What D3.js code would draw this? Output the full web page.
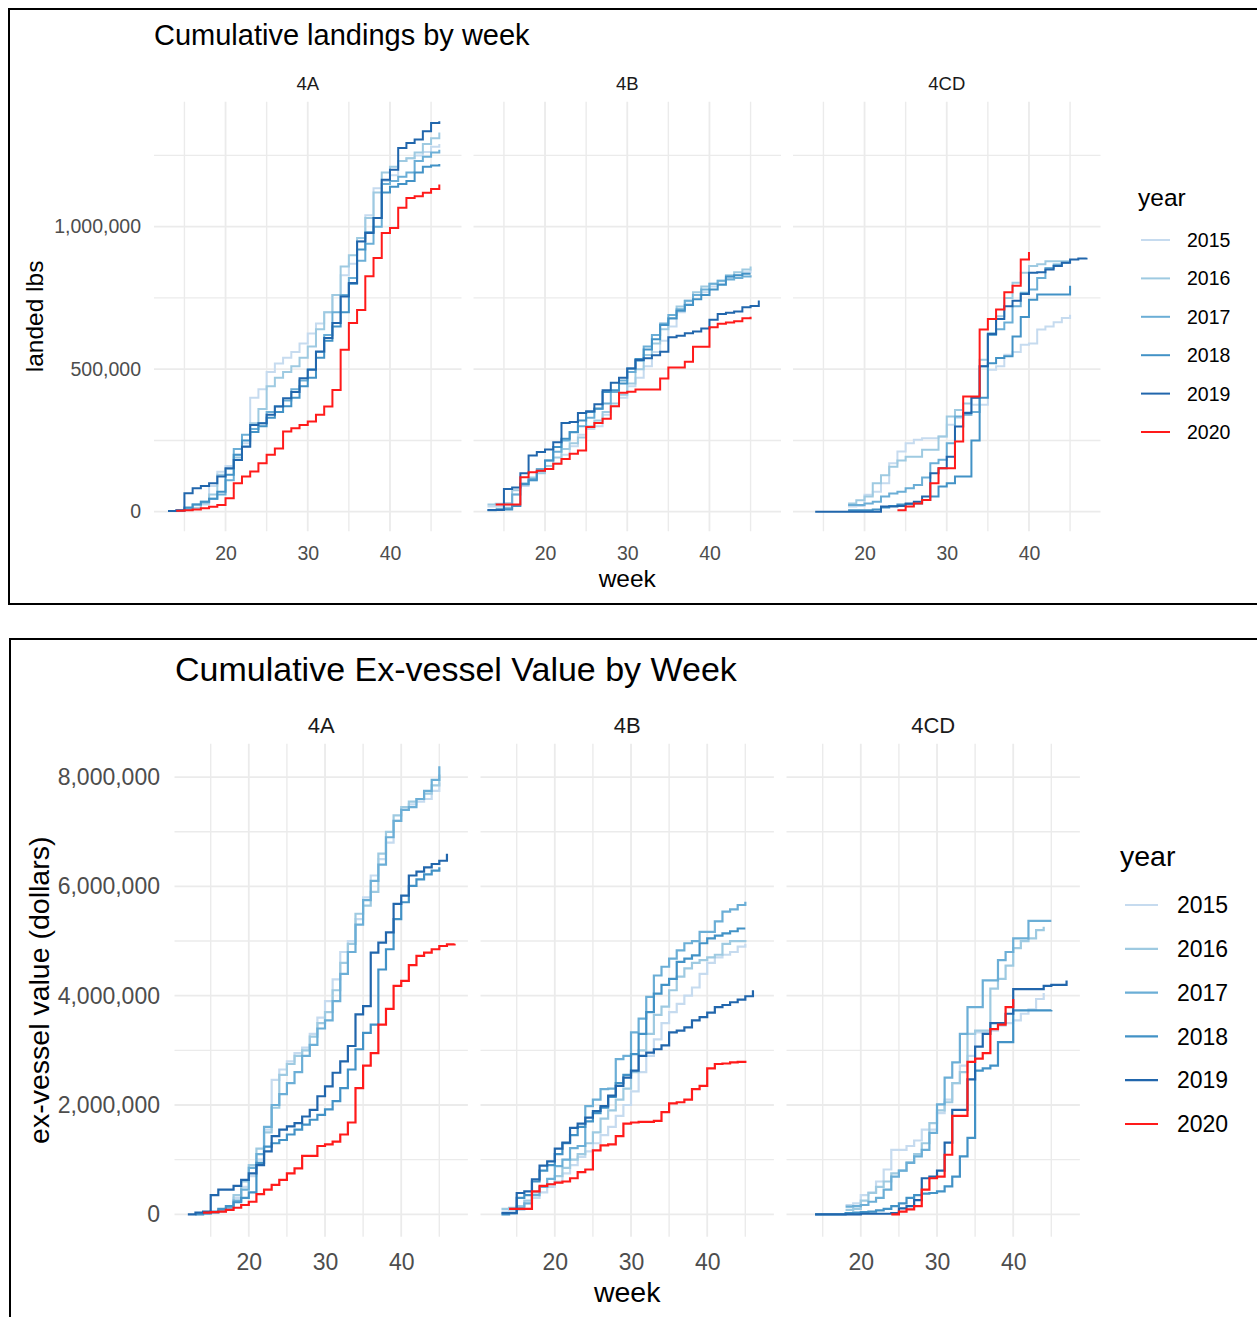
<!DOCTYPE html>
<html>
<head>
<meta charset="utf-8">
<script src="https://cdn.jsdelivr.net/npm/d3@7"></script>
<style>
  body { margin: 0; background: #fff; }
  svg text { font-family: "Liberation Sans", Arial, sans-serif; }
</style>
</head>
<body>
<svg id="chart" width="1257" height="1317"></svg>
<script>
// ---- data ----
const years = ["2015", "2016", "2017", "2018", "2019", "2020"];
const yearColors = ["#c6dbef", "#9ecae1", "#6baed6", "#4292c6", "#2166ac", "#ff1a1a"];
const areas = ["4A", "4B", "4CD"];
const weekTicks = [20, 30, 40];
const weekMinor = [15, 25, 35, 45];

// cumulative landings, thousands of lbs: [year, first week, weekly values]
const lbs4A = [
  ["2015", 14, [4, 8, 14, 25, 90, 140, 160, 200, 240, 400, 430, 490, 520, 540, 560, 590, 625, 660, 700, 760, 830, 870, 950, 1040, 1135, 1160, 1180, 1230, 1240, 1250, 1262, 1280, 1290]],
  ["2016", 14, [3, 6, 12, 30, 60, 130, 150, 190, 230, 310, 360, 440, 470, 490, 510, 540, 580, 640, 700, 760, 860, 900, 960, 1030, 1120, 1190, 1210, 1230, 1240, 1260, 1290, 1310, 1330]],
  ["2017", 14, [2, 10, 25, 35, 45, 60, 110, 220, 270, 290, 310, 350, 370, 390, 430, 460, 500, 560, 620, 700, 760, 820, 880, 940, 1000, 1150, 1160, 1175, 1190, 1230, 1245, 1260, 1270]],
  ["2018", 14, [3, 15, 25, 35, 45, 70, 130, 200, 250, 280, 300, 330, 350, 370, 400, 440, 470, 540, 600, 650, 700, 800, 920, 980, 1030, 1120, 1140, 1150, 1160, 1190, 1210, 1215, 1220]],
  ["2019", 13, [2, 5, 65, 82, 90, 100, 123, 152, 181, 228, 304, 310, 340, 369, 398, 420, 468, 498, 562, 609, 662, 755, 802, 948, 978, 1030, 1165, 1200, 1276, 1294, 1306, 1335, 1364, 1370]],
  ["2020", 14, [3, 5, 8, 12, 17, 23, 47, 100, 123, 141, 170, 200, 222, 281, 293, 304, 316, 340, 369, 427, 568, 662, 708, 826, 890, 978, 995, 1066, 1101, 1107, 1119, 1132, 1148]]
];
const lbs4B = [
  ["2015", 13, [18, 20, 22, 60, 90, 110, 140, 150, 170, 200, 230, 270, 290, 300, 340, 370, 400, 440, 470, 510, 560, 600, 650, 700, 730, 760, 770, 790, 800, 820, 830, 840, 850]],
  ["2016", 13, [25, 28, 30, 75, 100, 120, 135, 160, 190, 220, 240, 260, 300, 320, 350, 380, 410, 450, 500, 550, 590, 640, 680, 720, 740, 770, 790, 800, 810, 830, 840, 850, 860]],
  ["2017", 14, [10, 12, 60, 95, 115, 150, 180, 210, 250, 280, 300, 330, 360, 380, 420, 460, 490, 530, 580, 620, 660, 690, 710, 740, 760, 780, 800, 810, 815, 820, 825, 830]],
  ["2018", 13, [5, 6, 8, 20, 97, 110, 144, 180, 227, 256, 279, 320, 350, 362, 420, 426, 450, 502, 536, 569, 605, 655, 678, 705, 725, 745, 760, 780, 796, 825, 830, 835, 835]],
  ["2019", 13, [6, 6, 80, 85, 135, 197, 209, 218, 244, 311, 315, 346, 352, 377, 426, 452, 470, 502, 532, 538, 549, 561, 612, 617, 626, 632, 643, 673, 694, 698, 702, 717, 722, 741]],
  ["2020", 14, [25, 25, 25, 121, 138, 144, 150, 168, 185, 203, 215, 297, 311, 326, 370, 417, 421, 429, 429, 429, 467, 506, 506, 526, 579, 579, 647, 659, 664, 668, 679, 684]]
];
const lbs4CD = [
  ["2015", 18, [18, 20, 59, 70, 100, 170, 211, 240, 252, 258, 258, 264, 305, 330, 350, 375, 375, 498, 510, 551, 560, 586, 590, 639, 650, 665, 680, 691]],
  ["2016", 18, [29, 40, 53, 100, 128, 158, 180, 193, 193, 217, 217, 264, 334, 357, 380, 400, 533, 627, 686, 750, 803, 838, 862, 868, 879, 879, 879, 879]],
  ["2017", 18, [23, 23, 29, 35, 53, 64, 70, 82, 94, 120, 170, 182, 240, 334, 340, 350, 510, 620, 640, 664, 721, 768, 780, 820, 855, 867, 873, 873]],
  ["2018", 18, [5, 5, 5, 8, 15, 20, 25, 27, 29, 41, 53, 88, 100, 123, 123, 250, 400, 521, 539, 545, 615, 683, 744, 762, 762, 762, 762, 793]],
  ["2019", 14, [0, 0, 0, 0, 0, 0, 0, 0, 18, 18, 20, 29, 35, 53, 135, 152, 193, 299, 346, 400, 510, 623, 676, 721, 740, 764, 838, 840, 850, 862, 873, 885, 888, 891]],
  ["2020", 24, [5, 18, 29, 41, 100, 152, 152, 246, 404, 404, 639, 676, 709, 770, 793, 885, 911]]
];

// cumulative ex-vessel value, millions of dollars: [year, first week, weekly values]
const val4A = [
  ["2015", 14, [0.02, 0.03, 0.05, 0.1, 0.3, 0.5, 0.7, 1.0, 1.55, 2.46, 2.65, 2.8, 2.95, 3.05, 3.3, 3.6, 3.9, 4.3, 4.8, 5.0, 5.4, 5.8, 6.2, 6.5, 6.8, 7.2, 7.4, 7.5, 7.55, 7.6, 7.75, 7.9]],
  ["2016", 14, [0.02, 0.04, 0.08, 0.15, 0.35, 0.6, 0.9, 1.2, 1.5, 1.95, 2.55, 2.75, 2.9, 3.0, 3.25, 3.5, 3.7, 4.1, 4.6, 4.95, 5.5, 5.65, 5.9, 6.6, 7.0, 7.3, 7.45, 7.55, 7.6, 7.7, 7.85, 8.05]],
  ["2017", 14, [0.01, 0.03, 0.06, 0.12, 0.25, 0.45, 0.85, 1.1, 1.6, 2.0, 2.2, 2.4, 2.6, 2.9, 3.1, 3.4, 3.55, 3.9, 4.4, 4.8, 5.3, 5.75, 6.1, 6.4, 6.9, 7.2, 7.4, 7.45, 7.6, 7.75, 7.95, 8.2]],
  ["2018", 13, [0.0, 0.02, 0.05, 0.1, 0.15, 0.22, 0.3, 0.4, 0.94, 1.24, 1.3, 1.36, 1.46, 1.55, 1.64, 1.73, 1.82, 1.92, 2.07, 2.31, 2.65, 3.02, 3.32, 3.47, 4.48, 4.85, 5.4, 5.71, 6.01, 6.13, 6.22, 6.29, 6.35]],
  ["2019", 12, [0, 0.03, 0.05, 0.35, 0.45, 0.45, 0.52, 0.63, 0.75, 0.9, 1.15, 1.43, 1.55, 1.61, 1.67, 1.79, 1.91, 2.16, 2.34, 2.59, 2.8, 3.08, 3.66, 3.81, 4.79, 4.97, 5.16, 5.68, 5.83, 6.2, 6.27, 6.35, 6.41, 6.47, 6.6]],
  ["2020", 14, [0.03, 0.04, 0.05, 0.08, 0.12, 0.17, 0.23, 0.37, 0.45, 0.54, 0.63, 0.75, 0.84, 1.07, 1.07, 1.25, 1.28, 1.33, 1.46, 1.68, 2.31, 2.72, 2.95, 3.47, 3.76, 4.18, 4.27, 4.56, 4.73, 4.79, 4.85, 4.91, 4.94, 4.95]]
];
const val4B = [
  ["2015", 13, [0.05, 0.06, 0.08, 0.1, 0.3, 0.4, 0.5, 0.6, 0.75, 0.9, 1.05, 1.15, 1.3, 1.45, 1.6, 1.8, 2.0, 2.25, 2.6, 2.9, 3.2, 3.5, 3.7, 3.85, 4.0, 4.15, 4.4, 4.6, 4.7, 4.75, 4.8, 4.9, 4.95]],
  ["2016", 13, [0.1, 0.12, 0.15, 0.25, 0.4, 0.5, 0.55, 0.7, 0.85, 1.0, 1.1, 1.3, 1.5, 1.75, 1.9, 2.1, 2.3, 2.6, 3.0, 3.3, 3.65, 3.8, 4.1, 4.35, 4.5, 4.6, 4.65, 4.7, 4.75, 4.95, 5.0, 5.0, 5.02]],
  ["2017", 14, [0.1, 0.12, 0.2, 0.35, 0.5, 0.65, 0.88, 1.0, 1.21, 1.25, 1.98, 2.1, 2.29, 2.3, 2.84, 2.9, 3.33, 3.58, 3.98, 4.37, 4.53, 4.68, 4.83, 4.96, 5.0, 5.17, 5.17, 5.36, 5.54, 5.58, 5.66, 5.72]],
  ["2018", 13, [0.0, 0.02, 0.3, 0.35, 0.6, 0.8, 0.9, 1.1, 1.3, 1.45, 1.6, 1.7, 1.85, 1.95, 2.15, 2.4, 2.55, 2.93, 3.3, 3.7, 4.04, 4.2, 4.31, 4.62, 4.68, 4.74, 4.96, 5.05, 5.1, 5.14, 5.18, 5.23, 5.23]],
  ["2019", 13, [0.02, 0.02, 0.39, 0.42, 0.64, 0.89, 0.97, 1.2, 1.31, 1.58, 1.66, 1.77, 1.89, 1.98, 2.17, 2.35, 2.5, 2.63, 2.9, 2.96, 3.02, 3.09, 3.33, 3.36, 3.42, 3.55, 3.61, 3.69, 3.79, 3.83, 3.88, 3.93, 3.99, 4.1]],
  ["2020", 14, [0.1, 0.1, 0.1, 0.42, 0.52, 0.55, 0.58, 0.6, 0.66, 0.77, 0.82, 1.17, 1.26, 1.28, 1.43, 1.66, 1.68, 1.69, 1.69, 1.71, 1.87, 2.03, 2.05, 2.1, 2.29, 2.35, 2.67, 2.75, 2.76, 2.78, 2.79, 2.81]]
];
const val4CD = [
  ["2015", 18, [0.17, 0.2, 0.35, 0.4, 0.6, 0.82, 1.18, 1.18, 1.25, 1.35, 1.55, 1.55, 1.85, 2.1, 2.4, 2.72, 2.9, 3.33, 3.33, 3.36, 3.45, 3.5, 3.55, 3.67, 3.75, 3.94, 4.05]],
  ["2016", 18, [0.08, 0.1, 0.25, 0.39, 0.5, 0.6, 0.75, 0.8, 0.95, 1.1, 1.3, 1.67, 1.9, 2.05, 2.4, 2.6, 3.3, 3.36, 3.36, 4.13, 4.31, 4.55, 4.87, 5.0, 5.05, 5.2, 5.26]],
  ["2017", 18, [0.14, 0.15, 0.17, 0.23, 0.3, 0.45, 0.69, 0.8, 0.94, 1.06, 1.18, 1.49, 2.01, 2.5, 2.78, 3.3, 3.79, 3.79, 4.28, 4.28, 4.65, 4.8, 5.05, 5.05, 5.37, 5.37, 5.37, 5.37]],
  ["2018", 14, [0, 0, 0, 0, 0.02, 0.03, 0.04, 0.05, 0.07, 0.1, 0.15, 0.2, 0.3, 0.35, 0.38, 0.39, 0.42, 0.51, 0.69, 1.06, 1.4, 2.63, 2.67, 2.72, 3.15, 3.15, 3.73, 3.73, 3.73, 3.73, 3.73, 3.74]],
  ["2019", 14, [0, 0, 0, 0, 0, 0, 0.01, 0.01, 0.01, 0.01, 0.02, 0.11, 0.15, 0.26, 0.66, 0.69, 0.8, 1.31, 1.91, 1.91, 2.47, 3.07, 3.3, 3.5, 3.5, 3.67, 4.12, 4.12, 4.12, 4.12, 4.18, 4.2, 4.2, 4.28]],
  ["2020", 24, [0, 0.05, 0.09, 0.15, 0.45, 0.66, 0.69, 1.09, 1.8, 1.8, 2.79, 2.85, 2.95, 3.39, 3.47, 3.79, 3.94]]
];

const lbsTicks = [0, 500000, 1000000];
const lbsMinor = [250000, 750000, 1250000];
const valTicks = [0, 2000000, 4000000, 6000000, 8000000];
const valMinor = [1000000, 3000000, 5000000, 7000000];

// ---- layout ----
const charts = [
  {
    title: "Cumulative landings by week", yTitle: "landed lbs",
    panels: [lbs4A, lbs4B, lbs4CD], unit: 1000, yTicks: lbsTicks, yMinor: lbsMinor,
    box: [9, 9, 1262, 595],
    titleX: 154, titleY: 45, titleSize: 29,
    stripY: 90, stripSize: 18.5,
    px: [154, 473.5, 793], pw: 307.5, top: 101.7, bottom: 531.2,
    tickSize: 19.5, yPad: 13, xTickY: 560,
    axisTitleSize: 24.5, xTitleY: 587, yTitleX: 43,
    legX: 1138, legTitleY: 206, legY0: 240, legStep: 38.4, keyX: [1141, 1170], legLabelX: 1187,
    lineW: 2
  },
  {
    title: "Cumulative Ex-vessel Value by Week", yTitle: "ex-vessel value (dollars)",
    panels: [val4A, val4B, val4CD], unit: 1e6, yTicks: valTicks, yMinor: valMinor,
    box: [10, 639, 1262, 700],
    titleX: 175, titleY: 681, titleSize: 34,
    stripY: 733, stripSize: 22,
    px: [174.5, 480.5, 786.5], pw: 293.4, top: 743.8, bottom: 1236.7,
    tickSize: 23, yPad: 14.5, xTickY: 1270,
    axisTitleSize: 28.5, xTitleY: 1302, yTitleX: 49,
    legX: 1120, legTitleY: 866, legY0: 905, legStep: 43.8, keyX: [1125, 1158], legLabelX: 1177,
    lineW: 2.2
  }
];

const svg = d3.select("#chart");
const color = d3.scaleOrdinal().domain(years).range(yearColors);

function toSeries(rows, unit) {
  return rows.map(([year, start, vals]) => ({
    year: year,
    pts: vals.map((v, i) => ({ week: start + i, value: v * unit }))
  }));
}

function expand(ext) {
  const pad = (ext[1] - ext[0]) * 0.05;
  return [ext[0] - pad, ext[1] + pad];
}

charts.forEach(c => {
  const g = svg.append("g");

  g.append("rect")
    .attr("x", c.box[0]).attr("y", c.box[1])
    .attr("width", c.box[2]).attr("height", c.box[3])
    .attr("fill", "none").attr("stroke", "#000").attr("stroke-width", 2);

  const series = c.panels.map(rows => toSeries(rows, c.unit));
  const allPts = series.flat().flatMap(s => s.pts);
  const xDom = expand(d3.extent(allPts, d => d.week));
  const yDom = expand([0, d3.max(allPts, d => d.value)]);

  const y = d3.scaleLinear().domain(yDom).range([c.bottom, c.top]);

  g.append("text")
    .attr("x", c.titleX).attr("y", c.titleY)
    .attr("font-size", c.titleSize).attr("fill", "#000")
    .text(c.title);

  series.forEach((panel, p) => {
    const x0 = c.px[p];
    const x = d3.scaleLinear().domain(xDom).range([x0, x0 + c.pw]);
    const pg = g.append("g");

    // grid
    pg.selectAll(".vminor").data(weekMinor).enter().append("line")
      .attr("x1", d => x(d)).attr("x2", d => x(d))
      .attr("y1", c.top).attr("y2", c.bottom)
      .attr("stroke", "#ebebeb").attr("stroke-width", 1.4);
    pg.selectAll(".hminor").data(c.yMinor).enter().append("line")
      .attr("x1", x0).attr("x2", x0 + c.pw)
      .attr("y1", d => y(d)).attr("y2", d => y(d))
      .attr("stroke", "#ebebeb").attr("stroke-width", 1.4);
    pg.selectAll(".vmajor").data(weekTicks).enter().append("line")
      .attr("x1", d => x(d)).attr("x2", d => x(d))
      .attr("y1", c.top).attr("y2", c.bottom)
      .attr("stroke", "#ebebeb").attr("stroke-width", 1.8);
    pg.selectAll(".hmajor").data(c.yTicks).enter().append("line")
      .attr("x1", x0).attr("x2", x0 + c.pw)
      .attr("y1", d => y(d)).attr("y2", d => y(d))
      .attr("stroke", "#ebebeb").attr("stroke-width", 1.8);

    // step lines
    const line = d3.line()
      .x(d => x(d.week))
      .y(d => y(d.value))
      .curve(d3.curveStepAfter);

    pg.selectAll(".step").data(panel).enter().append("path")
      .attr("d", d => line(d.pts))
      .attr("fill", "none")
      .attr("stroke", d => color(d.year))
      .attr("stroke-width", c.lineW);

    // strip label
    pg.append("text")
      .attr("x", x0 + c.pw / 2).attr("y", c.stripY)
      .attr("text-anchor", "middle")
      .attr("font-size", c.stripSize).attr("fill", "#1a1a1a")
      .text(areas[p]);

    // x axis labels
    const xa = pg.append("g")
      .attr("transform", `translate(0,${c.xTickY - 0.71 * c.tickSize})`)
      .call(d3.axisBottom(x).tickValues(weekTicks).tickSize(0).tickPadding(0));
    xa.select(".domain").remove();
    xa.selectAll("text").attr("font-size", c.tickSize).attr("fill", "#4d4d4d")
      .style("font-family", "'Liberation Sans', Arial, sans-serif");

    if (p === 0) {
      const ya = pg.append("g")
        .attr("transform", `translate(${x0},0)`)
        .call(d3.axisLeft(y).tickValues(c.yTicks).tickSize(0).tickPadding(c.yPad).tickFormat(d3.format(",")));
      ya.select(".domain").remove();
      ya.selectAll("text").attr("font-size", c.tickSize).attr("fill", "#4d4d4d")
        .style("font-family", "'Liberation Sans', Arial, sans-serif");
    }
  });

  // axis titles
  const left = c.px[0], right = c.px[2] + c.pw;
  g.append("text")
    .attr("x", (left + right) / 2).attr("y", c.xTitleY)
    .attr("text-anchor", "middle")
    .attr("font-size", c.axisTitleSize).attr("fill", "#000")
    .text("week");
  g.append("text")
    .attr("transform", `translate(${c.yTitleX},${(c.top + c.bottom) / 2}) rotate(-90)`)
    .attr("text-anchor", "middle")
    .attr("font-size", c.axisTitleSize).attr("fill", "#000")
    .text(c.yTitle);

  // legend
  const lg = g.append("g");
  lg.append("text")
    .attr("x", c.legX).attr("y", c.legTitleY)
    .attr("font-size", c.axisTitleSize).attr("fill", "#000")
    .text("year");
  const items = lg.selectAll(".item").data(years).enter().append("g")
    .attr("transform", (d, i) => `translate(0,${c.legY0 + i * c.legStep})`);
  items.append("line")
    .attr("x1", c.keyX[0]).attr("x2", c.keyX[1])
    .attr("stroke", d => color(d)).attr("stroke-width", c.lineW);
  items.append("text")
    .attr("x", c.legLabelX).attr("y", 0.36 * c.tickSize)
    .attr("font-size", c.tickSize).attr("fill", "#000")
    .text(d => d);
});
</script>
</body>
</html>
